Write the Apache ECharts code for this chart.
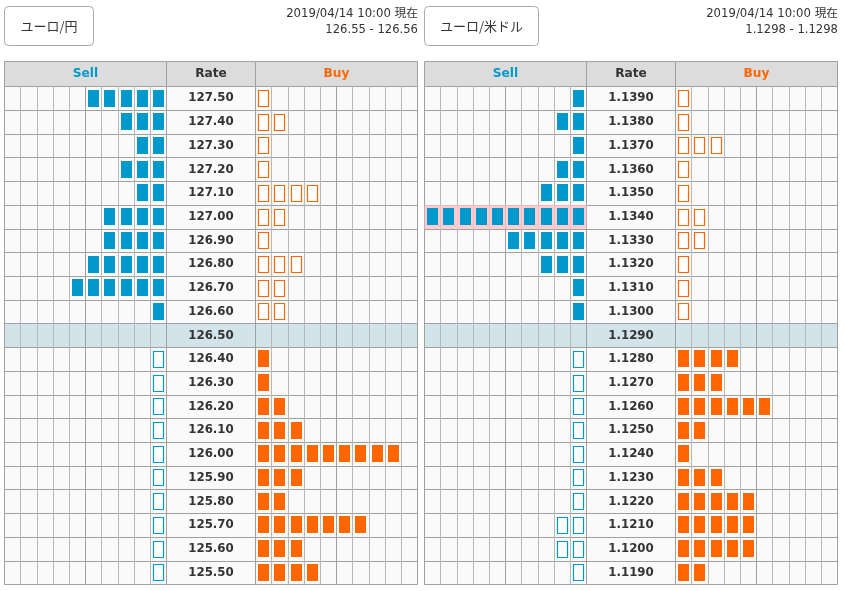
<!DOCTYPE html>
<html lang="ja">
<head>
    <meta charset="UTF-8">
    <title>ユーロ オーダーブック</title>
    <script src="https://cdn.jsdelivr.net/npm/echarts@6/dist/echarts.min.js"></script>
    <style>
        body { margin: 0; background: #fff; }
        #chart { width: 845px; height: 591px; }
    </style>
</head>
<body>
    <div id="chart"></div>
    <script>
        // ユーロ/円
        var jpyRates = ['127.50','127.40','127.30','127.20','127.10','127.00','126.90','126.80','126.70','126.60','126.50','126.40','126.30','126.20','126.10','126.00','125.90','125.80','125.70','125.60','125.50'];
        var jpySellFilled = [5,3,2,3,2,4,4,5,6,1,0,0,0,0,0,0,0,0,0,0,0];
        var jpySellHollow = [0,0,0,0,0,0,0,0,0,0,0,1,1,1,1,1,1,1,1,1,1];
        var jpyBuyFilled = [0,0,0,0,0,0,0,0,0,0,0,1,1,2,3,9,3,2,7,3,4];
        var jpyBuyHollow = [1,2,1,1,4,2,1,3,2,2,0,0,0,0,0,0,0,0,0,0,0];

        // ユーロ/米ドル
        var usdRates = ['1.1390','1.1380','1.1370','1.1360','1.1350','1.1340','1.1330','1.1320','1.1310','1.1300','1.1290','1.1280','1.1270','1.1260','1.1250','1.1240','1.1230','1.1220','1.1210','1.1200','1.1190'];
        var usdSellFilled = [1,2,1,2,3,10,5,3,1,1,0,0,0,0,0,0,0,0,0,0,0];
        var usdSellHollow = [0,0,0,0,0,0,0,0,0,0,0,1,1,1,1,1,1,1,2,2,1];
        var usdBuyFilled = [0,0,0,0,0,0,0,0,0,0,0,4,3,6,2,1,3,5,5,5,2];
        var usdBuyHollow = [1,1,3,1,1,2,2,1,1,1,0,0,0,0,0,0,0,0,0,0,0];

        var cells = ['1','2','3','4','5','6','7','8','9','10'];
        var headers = ['Sell', 'Rate', 'Buy'];
        var SELL = '#0099cc', BUY = '#ff6600', TEXT = '#333333', LINE = '#a0a0a0', LINE_LIGHT = '#b8b8b8';

        var panels = [
            { x: 0, name: 'ユーロ/円', btnW: 89, quote: '126.55 - 126.56', rates: jpyRates,
              sellFilled: jpySellFilled, sellHollow: jpySellHollow, buyFilled: jpyBuyFilled, buyHollow: jpyBuyHollow, hit: null },
            { x: 420, name: 'ユーロ/米ドル', btnW: 114, quote: '1.1298 - 1.1298', rates: usdRates,
              sellFilled: usdSellFilled, sellHollow: usdSellHollow, buyFilled: usdBuyFilled, buyHollow: usdBuyHollow, hit: '1.1340' }
        ];

        var rowColors = jpyRates.map(function (r, i) { return i === 10 ? '#d2e4ea' : '#fafafa'; });

        // 1マスの四角。col,row はカテゴリ軸の番号
        function boxItem(color, hollow) {
            return function (params, api) {
                var c = api.coord([api.value(0), api.value(1)]);
                var s = api.size([1, 1]);
                var w = hollow ? 10 : 11, h = hollow ? 16 : 17;
                var x = Math.round(c[0] - s[0] / 2 + 2.6), y = Math.round(c[1] - h / 2 - 0.3);
                if (hollow) {
                    return { type: 'rect', shape: { x: x + 0.5, y: y + 0.5, width: w, height: h },
                        style: { fill: '#ffffff', stroke: color, lineWidth: 1.2 } };
                }
                return { type: 'rect', shape: { x: x, y: y, width: w, height: h }, style: { fill: color } };
            };
        }

        function cellItem(params, api) {
            var c = api.coord([api.value(0), api.value(1)]);
            var s = api.size([1, 1]);
            return { type: 'rect', shape: { x: c[0] - s[0] / 2, y: c[1] - s[1] / 2, width: s[0], height: s[1] },
                style: { fill: '#ffc2c6', opacity: 0.85 } };
        }

        // 左から count 個(Buy)、右から count 個(Sell)
        function toBoxes(counts, fromRight) {
            var out = [];
            counts.forEach(function (n, row) {
                for (var i = 0; i < n; i++) out.push([fromRight ? 9 - i : i, row]);
            });
            return out;
        }

        var grids = [], xAxes = [], yAxes = [], series = [], graphics = [];

        function addGrid(left, width, cats, rates, colColors, showLabel) {
            var idx = grids.length;
            grids.push({ left: left, width: width, top: 86.5, height: 498 });
            xAxes.push({
                gridIndex: idx, type: 'category', data: cats, silent: true,
                axisLine: { show: false }, axisTick: { show: false }, axisLabel: { show: false },
                splitLine: { show: true, interval: 0, lineStyle: { color: colColors, width: 1 } }
            });
            yAxes.push({
                gridIndex: idx, type: 'category', data: rates, inverse: true, silent: true,
                axisLine: { show: false }, axisTick: { show: false },
                axisLabel: { show: showLabel, interval: 0, align: 'center', margin: -width / 2, color: TEXT,
                    fontFamily: 'DejaVu Sans', fontWeight: 'bold', fontSize: 11.8 },
                splitLine: { show: true, interval: 0, lineStyle: { color: LINE, width: 1 } },
                splitArea: { show: true, interval: 0, areaStyle: { color: rowColors, opacity: 1 } }
            });
            return idx;
        }

        function addBoxes(idx, data, color, hollow) {
            series.push({ type: 'custom', coordinateSystem: 'cartesian2d', xAxisIndex: idx, yAxisIndex: idx,
                silent: true, clip: false, animation: false, z: 5, data: data, renderItem: boxItem(color, hollow) });
        }

        var cellColors = [LINE, LINE_LIGHT, LINE_LIGHT, LINE_LIGHT, LINE_LIGHT];

        panels.forEach(function (p) {
            var x0 = p.x + 4.5;
            var sell = addGrid(x0, 162, cells, p.rates, cellColors, false);
            var rate = addGrid(x0 + 162, 89, ['rate'], p.rates, [LINE], true);
            var buy = addGrid(x0 + 251, 162, cells, p.rates, cellColors, false);

            if (p.hit) {
                var row = p.rates.indexOf(p.hit);
                series.push({ type: 'custom', coordinateSystem: 'cartesian2d', xAxisIndex: sell, yAxisIndex: sell,
                    silent: true, animation: false, z: 2, renderItem: cellItem,
                    data: cells.map(function (c, i) { return [i, row]; }) });
            }
            addBoxes(sell, toBoxes(p.sellFilled, true), SELL, false);
            addBoxes(sell, toBoxes(p.sellHollow, true), SELL, true);
            addBoxes(buy, toBoxes(p.buyFilled, false), BUY, false);
            addBoxes(buy, toBoxes(p.buyHollow, false), BUY, true);

            // ボタン
            graphics.push({ type: 'rect', shape: { x: x0, y: 6.5, width: p.btnW, height: 39, r: 4 },
                style: { fill: '#fff', stroke: '#aaaaaa', lineWidth: 1 } });
            graphics.push({ type: 'text', x: x0 + p.btnW / 2, y: 26, style: { text: p.name, fill: TEXT, align: 'center',
                verticalAlign: 'middle', font: '13px "Noto Sans CJK JP"' } });

            // 現在レート
            graphics.push({ type: 'text', x: p.x + 418, y: 13.5, style: { text: '2019/04/14 10:00 現在', fill: TEXT, align: 'right',
                verticalAlign: 'middle', font: '11.7px "DejaVu Sans", "Noto Sans CJK JP"' } });
            graphics.push({ type: 'text', x: p.x + 418, y: 30, style: { text: p.quote, fill: TEXT, align: 'right',
                verticalAlign: 'middle', font: '11.6px "DejaVu Sans"' } });

            // ヘッダー
            var spans = [[x0, 162, SELL], [x0 + 162, 89, TEXT], [x0 + 251, 162, BUY]];
            spans.forEach(function (s, i) {
                graphics.push({ type: 'rect', shape: { x: s[0], y: 61.5, width: s[1], height: 25 },
                    style: { fill: '#dcdcdc', stroke: LINE, lineWidth: 1 } });
                graphics.push({ type: 'text', x: s[0] + s[1] / 2, y: 74, style: { text: headers[i], fill: s[2], align: 'center',
                    verticalAlign: 'middle', font: 'bold 12.2px "DejaVu Sans"' } });
            });
        });

        var myChart = echarts.init(document.getElementById('chart'));
        myChart.setOption({
            animation: false,
            grid: grids,
            xAxis: xAxes,
            yAxis: yAxes,
            series: series,
            graphic: graphics
        });
    </script>
</body>
</html>
